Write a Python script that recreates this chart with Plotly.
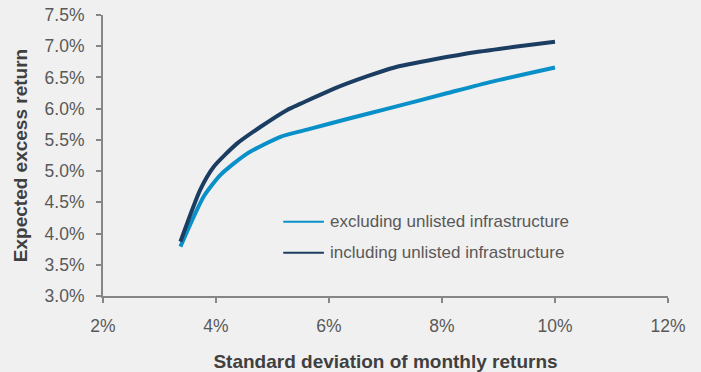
import plotly.graph_objects as go

# Data (standard deviation %, expected excess return %)
incl_sd = [3.37, 3.72, 3.96, 4.37, 4.79, 5.26, 5.50, 6.09, 6.68, 7.16, 7.87, 8.64, 9.29, 10.0]
incl_ret = [3.87, 4.70, 5.07, 5.44, 5.71, 5.98, 6.08, 6.32, 6.52, 6.66, 6.79, 6.91, 6.99, 7.07]

excl_sd = [3.37, 3.78, 4.08, 4.55, 5.14, 5.68, 6.39, 7.04, 8.10, 8.87, 10.0]
excl_ret = [3.79, 4.59, 4.94, 5.28, 5.55, 5.68, 5.85, 6.00, 6.25, 6.43, 6.66]

series_names = ["excluding unlisted infrastructure", "including unlisted infrastructure"]
x_ticks = [2, 4, 6, 8, 10, 12]
y_ticks = [3.0, 3.5, 4.0, 4.5, 5.0, 5.5, 6.0, 6.5, 7.0, 7.5]

LIGHT = "#0a90c8"
DARK = "#1c3d62"
BG = "#f0f0f0"
AXIS = "#868686"
TXT = "#595959"
FONT = "Liberation Sans, Arial, sans-serif"

fig = go.Figure()
fig.add_trace(go.Scatter(x=excl_sd, y=excl_ret, mode="lines", name=series_names[0],
                         line=dict(color=LIGHT, width=4, shape="spline", smoothing=0.6),
                         showlegend=False))
fig.add_trace(go.Scatter(x=incl_sd, y=incl_ret, mode="lines", name=series_names[1],
                         line=dict(color=DARK, width=4, shape="spline", smoothing=0.6),
                         showlegend=False))

# manual legend (lines + labels)
leg_x0, leg_x1 = 0.319, 0.391
for i, (name, col) in enumerate(zip(series_names, [LIGHT, DARK])):
    yy = 0.264 - i * 0.110
    fig.add_shape(type="line", xref="paper", yref="paper", x0=leg_x0, x1=leg_x1,
                  y0=yy, y1=yy, line=dict(color=col, width=2))
    fig.add_annotation(xref="paper", yref="paper", x=leg_x1 + 0.007, y=yy,
                       text=name, showarrow=False, xanchor="left", yanchor="middle",
                       font=dict(family=FONT, size=17, color=TXT))

fig.update_layout(
    width=701, height=372,
    margin=dict(l=103, r=33, t=15, b=76),
    paper_bgcolor=BG, plot_bgcolor=BG,
    font=dict(family=FONT, size=17, color=TXT),
    showlegend=False,
)
fig.update_xaxes(
    range=[2, 12], tickvals=x_ticks, ticktext=[f"{v}%" for v in x_ticks],
    showgrid=False, zeroline=False, showline=True, linecolor=AXIS, linewidth=2,
    ticks="outside", ticklen=5, tickwidth=1.5, tickcolor=AXIS,
    ticklabelstandoff=8, automargin=False,
    tickfont=dict(size=17.5, color=TXT),
    title=dict(text="<b>Standard deviation of monthly returns</b>",
               font=dict(size=19, color="#404040"), standoff=22),
)
fig.update_yaxes(
    range=[3.0, 7.5], tickvals=y_ticks, ticktext=[f"{v:.1f}%" for v in y_ticks],
    showgrid=False, zeroline=False, showline=True, linecolor=AXIS, linewidth=2,
    ticks="outside", ticklen=5, tickwidth=1.5, tickcolor=AXIS,
    ticklabelstandoff=8, automargin=False,
    tickfont=dict(size=17.5, color=TXT),
    title=dict(text="<b>Expected excess return</b>",
               font=dict(size=19, color="#404040"), standoff=12),
)

fig.write_html("out.html")
